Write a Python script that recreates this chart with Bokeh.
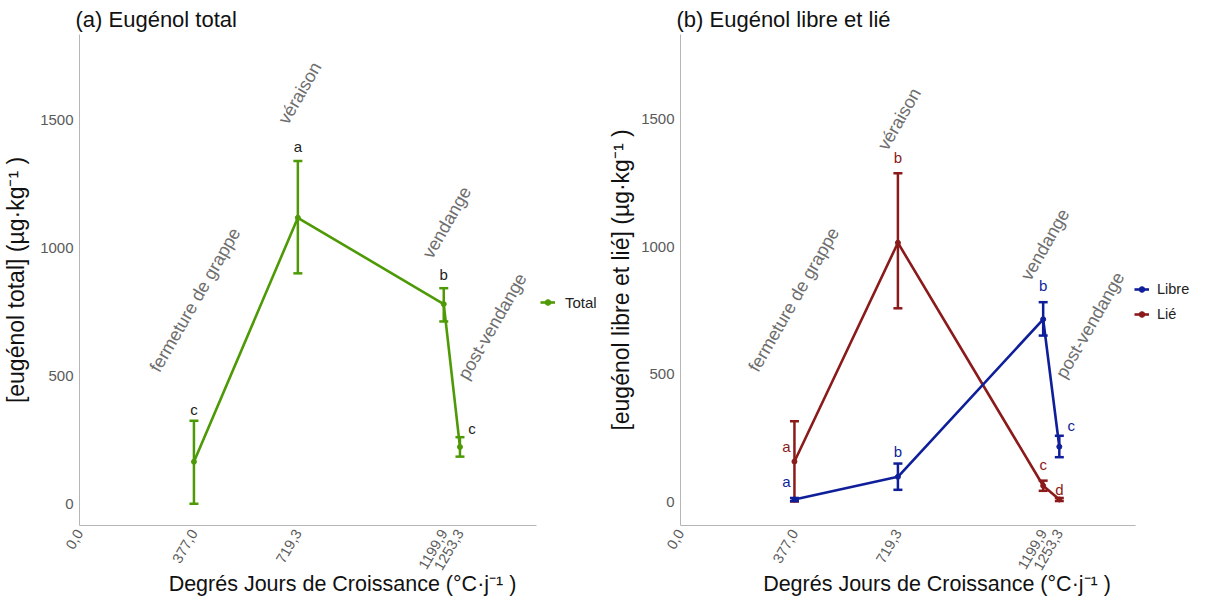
import math
from bokeh.plotting import figure
from bokeh.models import (ColumnDataSource, Whisker, FixedTicker, Legend, LegendItem,
                          TeeHead, Range1d)
from bokeh.layouts import row
from bokeh.embed import file_html
from bokeh.resources import INLINE
from bokeh.core.properties import value

FONT = "Liberation Sans"

# ---------------- data ----------------
gdd = [377.0, 719.3, 1199.9, 1253.3]
x_ticks = [0.0, 377.0, 719.3, 1199.9, 1253.3]
x_tick_labels = ["0,0", "377,0", "719,3", "1199,9", "1253,3"]
y_ticks = [0, 500, 1000, 1500]

total_mean = [164, 1117, 780, 222]
total_low = [0, 900, 712, 184]
total_high = [324, 1339, 842, 260]
total_letters = ["c", "a", "b", "c"]
total_letter_y = [370, 1396, 897, 294]
total_letter_dx = [0, 0, 0, 12]

libre_mean = [8, 97, 715, 215]
libre_low = [2, 46, 651, 174]
libre_high = [14, 149, 782, 258]
libre_letters = ["a", "b", "b", "c"]
libre_letter_y = [77, 195, 846, 297]
libre_letter_dx = [-8, 0, 0, 12]

lie_mean = [157, 1015, 62, 8]
lie_low = [0, 758, 42, 2]
lie_high = [315, 1288, 82, 14]
lie_letters = ["a", "b", "c", "d"]
lie_letter_y = [215, 1349, 146, 46]
lie_letter_dx = [-8, 0, 0, 0]

stages = ["fermeture de grappe", "véraison", "vendange", "post-vendange"]
stage_x_a = [381, 726, 1210, 1360]
stage_y_a = [796, 1604, 1099, 693]
stage_x_b = [375, 724, 1206, 1355]
stage_y_b = [792, 1500, 1008, 692]

X_AXIS_END = 1505

GREEN = "#4E9A06"
BLUE = "#0F1F99"
RED = "#8B1A1A"
AXIS_GRAY = "#B5B5B5"
TICK_GRAY = "#5A5A5A"
STAGE_GRAY = "#6E6E6E"

H = 598
TOP = 34
BOTTOM = 69
RIGHT_PAD = 8  # border Bokeh keeps right of the frame


def make_fig(title, ylabel, yr, width, bl, axis_px, ytitle_standoff):
    frame_w = width - bl - RIGHT_PAD
    x_end = X_AXIS_END * frame_w / axis_px  # room for the legend right of the axis
    p = figure(width=width, height=H, output_backend="svg",
               toolbar_location=None,
               x_range=Range1d(0, x_end), y_range=Range1d(*yr),
               min_border_left=bl, min_border_right=0,
               min_border_top=TOP, min_border_bottom=BOTTOM)
    p.title.text = title
    p.title.text_font = FONT
    p.title.text_font_size = "22px"
    p.title.text_font_style = "normal"
    p.title.text_color = "#111111"
    p.title.align = "left"
    p.title.offset = -4
    p.title.standoff = 6
    p.outline_line_color = None
    p.xgrid.visible = False
    p.ygrid.visible = False

    p.xaxis.ticker = FixedTicker(ticks=x_ticks)
    p.xaxis.bounds = (0, X_AXIS_END)
    p.xaxis.major_label_overrides = {t: l for t, l in zip(x_ticks, x_tick_labels)}
    p.xaxis.major_label_orientation = math.pi / 3
    p.yaxis.ticker = FixedTicker(ticks=y_ticks)
    for ax in (p.xaxis, p.yaxis):
        ax.axis_line_color = AXIS_GRAY
        ax.axis_line_width = 1
        ax.major_tick_line_color = None
        ax.minor_tick_line_color = None
        ax.major_tick_out = 0
        ax.major_tick_in = 0
        ax.minor_tick_out = 0
        ax.minor_tick_in = 0
        ax.major_label_text_font = FONT
        ax.major_label_text_font_size = "15px"
        ax.major_label_text_color = TICK_GRAY
        ax.axis_label_text_font = FONT
        ax.axis_label_text_font_style = "normal"
        ax.axis_label_text_color = "#111111"
    p.xaxis.major_label_text_font_size = "14.5px"
    p.xaxis.axis_label_text_font_size = "21.5px"
    p.yaxis.axis_label_text_font_size = "23px"
    p.xaxis.major_label_standoff = 5
    p.yaxis.major_label_standoff = 6
    p.xaxis.axis_label = "Degrés Jours de Croissance (°C·j⁻¹ )"
    p.yaxis.axis_label = ylabel
    p.xaxis.axis_label_standoff = -5
    p.yaxis.axis_label_standoff = ytitle_standoff
    return p


def add_series(p, mean, low, high, letters, letter_y, letter_dx, color, letter_color):
    src = ColumnDataSource(dict(x=gdd, mean=mean, low=low, high=high))
    w = Whisker(source=src, base="x", upper="high", lower="low",
                line_color=color, line_width=2.5,
                upper_head=TeeHead(size=9, line_color=color, line_width=2.5),
                lower_head=TeeHead(size=9, line_color=color, line_width=2.5))
    p.add_layout(w)
    ln = p.line("x", "mean", source=src, line_color=color, line_width=2.6)
    pt = p.scatter("x", "mean", source=src, size=5, fill_color=color, line_color=color)
    lsrc = ColumnDataSource(dict(x=gdd, y=letter_y, t=letters, dx=letter_dx))
    p.text("x", "y", text="t", x_offset="dx", source=lsrc, text_align="center",
           text_baseline="middle", text_color=letter_color, text_font=value(FONT),
           text_font_size="15px")
    return [ln, pt]


def add_stages(p, xs, ys):
    src = ColumnDataSource(dict(x=xs, y=ys, t=stages))
    p.text("x", "y", text="t", source=src, angle=60, angle_units="deg",
           text_align="center", text_baseline="middle", text_color=STAGE_GRAY,
           text_font=value(FONT), text_font_size="18px")


def make_legend(items, loc, standoff, fsize):
    return Legend(items=items, location=loc, border_line_color=None,
                  background_fill_alpha=0, label_text_font=FONT,
                  label_text_font_size=fsize, label_text_color="#222222",
                  glyph_width=15, glyph_height=14, label_height=20, margin=0,
                  padding=4, spacing=5, label_standoff=standoff)


# ---------------- panel (a) ----------------
pa = make_fig("(a) Eugénol total", "[eugénol total] (µg·kg⁻¹ )", (-85, 1833),
              605, 72, 456, 8)
add_stages(pa, stage_x_a, stage_y_a)
r_total = add_series(pa, total_mean, total_low, total_high, total_letters,
                     total_letter_y, total_letter_dx, GREEN, "#222222")
pa.add_layout(make_legend([LegendItem(label="Total", renderers=r_total)],
                          (461, 213), 10, "15px"))

# ---------------- panel (b) ----------------
pb = make_fig("(b) Eugénol libre et lié", "[eugénol libre et lié] (µg·kg⁻¹ )",
              (-94, 1832), 588, 68, 454, 4)
add_stages(pb, stage_x_b, stage_y_b)
r_lie = add_series(pb, lie_mean, lie_low, lie_high, lie_letters,
                   lie_letter_y, lie_letter_dx, RED, RED)
r_libre = add_series(pb, libre_mean, libre_low, libre_high, libre_letters,
                     libre_letter_y, libre_letter_dx, BLUE, BLUE)
pb.add_layout(make_legend([LegendItem(label="Libre", renderers=r_libre),
                           LegendItem(label="Lié", renderers=r_lie)],
                          (454, 201), 8, "14.5px"))

layout = row(pa, pb)
open("out.html", "w").write(file_html(layout, INLINE))
